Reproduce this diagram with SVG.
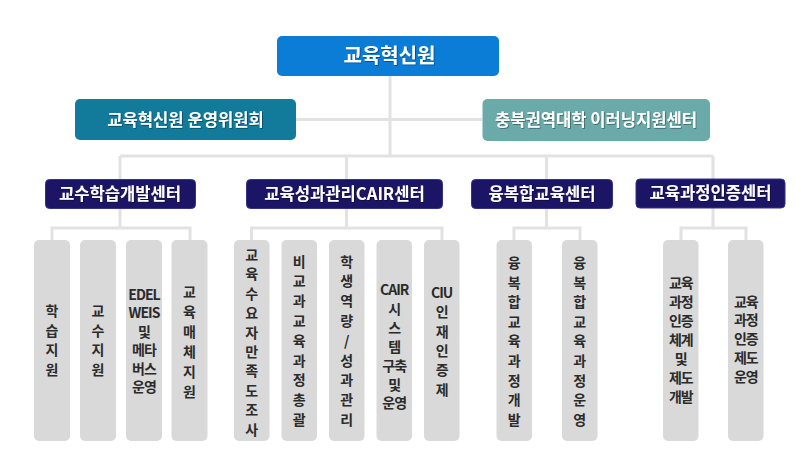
<svg xmlns="http://www.w3.org/2000/svg" width="801" height="458" viewBox="0 0 801 458">
<defs>
<filter id="ts" x="-10%" y="-30%" width="120%" height="160%">
<feDropShadow dx="0.8" dy="0.8" stdDeviation="0.6" flood-color="#000" flood-opacity="0.45"/>
</filter>
<style>
.conn{stroke:#e2e2e2;stroke-width:3;fill:none}
.hd{font-family:"Noto Sans CJK KR","Noto Sans",sans-serif;font-weight:bold;fill:#fff;text-anchor:middle;filter:url(#ts)}
.ctr{fill:#1c1566;stroke:#34338a;stroke-width:1}
.leaf{fill:#d9d9d9}
.vt{font-family:"Noto Sans CJK KR","Noto Sans",sans-serif;font-size:14px;fill:#2b2b2b;text-anchor:middle;font-weight:bold}
.m{letter-spacing:-1px}
</style>
</defs>
<rect width="801" height="458" fill="#fff"/>
<g id="connectors">
<path class="conn" d="M390 76V156M296 119.5H482M120 156H713M120 156V179M346.5 156V179M546.5 156V179M713 156V179"/>
<path class="conn" d="M120 208V228M346.5 208V228M546.5 208V228M713 208V228"/>
<path class="conn" d="M52 240V228H190V240M251.5 240V228H442V240M514 240V228H580V240M681 240V228H746V240"/>
</g>
<g id="n-root">
<rect x="277" y="36" width="222" height="40" rx="5" fill="#0b7dd6"/>
<text class="hd" x="389.5" y="63" font-size="20">교육혁신원</text>
</g>
<g id="n-committee">
<rect x="75" y="99" width="221" height="41" rx="5" fill="#127b9c"/>
<text class="hd" x="185.5" y="125.5" font-size="16.6">교육혁신원 운영위원회</text>
</g>
<g id="n-elearning">
<rect x="482.5" y="99" width="227.5" height="42" rx="5" fill="#6aabaa"/>
<text class="hd" x="596" y="126" font-size="16.6">충북권역대학 이러닝지원센터</text>
</g>
<g id="n-c1">
<rect class="ctr" x="45.5" y="179.5" width="150" height="29" rx="4"/>
<text class="hd" x="120" y="199.5" font-size="16.6">교수학습개발센터</text>
</g>
<g id="n-c2">
<rect class="ctr" x="246.5" y="179.5" width="196" height="29" rx="4"/>
<text class="hd" x="344.5" y="199.5" font-size="16.6">교육성과관리CAIR센터</text>
</g>
<g id="n-c3">
<rect class="ctr" x="471.5" y="179.5" width="141" height="29" rx="4"/>
<text class="hd" x="542" y="199.5" font-size="16.6">융복합교육센터</text>
</g>
<g id="n-c4">
<rect class="ctr" x="636" y="179" width="149" height="29" rx="4"/>
<text class="hd" x="710.5" y="199" font-size="16.6">교육과정인증센터</text>
</g>
<!-- group 1 leaves -->
<g id="l1">
<rect class="leaf" x="34" y="240" width="36" height="201" rx="5"/>
<text class="vt"><tspan x="52" y="316">학</tspan><tspan x="52" dy="19.5">습</tspan><tspan x="52" dy="19.5">지</tspan><tspan x="52" dy="19.5">원</tspan></text>
</g>
<g id="l2">
<rect class="leaf" x="80" y="240" width="36" height="201" rx="5"/>
<text class="vt"><tspan x="98" y="316">교</tspan><tspan x="98" dy="19.5">수</tspan><tspan x="98" dy="19.5">지</tspan><tspan x="98" dy="19.5">원</tspan></text>
</g>
<g id="l3">
<rect class="leaf" x="126" y="240" width="36" height="201" rx="5"/>
<text class="vt m"><tspan x="144" y="300">EDEL</tspan><tspan x="144" dy="18.4">WEIS</tspan><tspan x="144" dy="18.4">및</tspan><tspan x="144" dy="18.4">메타</tspan><tspan x="144" dy="18.4">버스</tspan><tspan x="144" dy="18.4">운영</tspan></text>
</g>
<g id="l4">
<rect class="leaf" x="171.5" y="240" width="36" height="201" rx="5"/>
<text class="vt"><tspan x="189.5" y="296.5">교</tspan><tspan x="189.5" dy="20">육</tspan><tspan x="189.5" dy="20">매</tspan><tspan x="189.5" dy="20">체</tspan><tspan x="189.5" dy="20">지</tspan><tspan x="189.5" dy="20">원</tspan></text>
</g>
<!-- group 2 leaves -->
<g id="l5">
<rect class="leaf" x="234" y="240" width="35.5" height="201" rx="5"/>
<text class="vt"><tspan x="251.8" y="260">교</tspan><tspan x="251.8" dy="19.4">육</tspan><tspan x="251.8" dy="19.4">수</tspan><tspan x="251.8" dy="19.4">요</tspan><tspan x="251.8" dy="19.4">자</tspan><tspan x="251.8" dy="19.4">만</tspan><tspan x="251.8" dy="19.4">족</tspan><tspan x="251.8" dy="19.4">도</tspan><tspan x="251.8" dy="19.4">조</tspan><tspan x="251.8" dy="19.4">사</tspan></text>
</g>
<g id="l6">
<rect class="leaf" x="281.5" y="240" width="35.5" height="201" rx="5"/>
<text class="vt"><tspan x="299.2" y="266.5">비</tspan><tspan x="299.2" dy="19.8">교</tspan><tspan x="299.2" dy="19.8">과</tspan><tspan x="299.2" dy="19.8">교</tspan><tspan x="299.2" dy="19.8">육</tspan><tspan x="299.2" dy="19.8">과</tspan><tspan x="299.2" dy="19.8">정</tspan><tspan x="299.2" dy="19.8">총</tspan><tspan x="299.2" dy="19.8">괄</tspan></text>
</g>
<g id="l7">
<rect class="leaf" x="329" y="240" width="35.5" height="201" rx="5"/>
<text class="vt"><tspan x="346.8" y="266.5">학</tspan><tspan x="346.8" dy="19.8">생</tspan><tspan x="346.8" dy="19.8">역</tspan><tspan x="346.8" dy="19.8">량</tspan><tspan x="346.8" dy="19.8">/</tspan><tspan x="346.8" dy="19.8">성</tspan><tspan x="346.8" dy="19.8">과</tspan><tspan x="346.8" dy="19.8">관</tspan><tspan x="346.8" dy="19.8">리</tspan></text>
</g>
<g id="l8">
<rect class="leaf" x="376.5" y="240" width="35.5" height="201" rx="5"/>
<text class="vt m"><tspan x="394.2" y="295">CAIR</tspan><tspan x="394.2" dy="18.9">시</tspan><tspan x="394.2" dy="18.9">스</tspan><tspan x="394.2" dy="18.9">템</tspan><tspan x="394.2" dy="18.9">구축</tspan><tspan x="394.2" dy="18.9">및</tspan><tspan x="394.2" dy="18.9">운영</tspan></text>
</g>
<g id="l9">
<rect class="leaf" x="424" y="240" width="35.5" height="201" rx="5"/>
<text class="vt m"><tspan x="441.7" y="298">CIU</tspan><tspan x="441.7" dy="19.3">인</tspan><tspan x="441.7" dy="19.3">재</tspan><tspan x="441.7" dy="19.3">인</tspan><tspan x="441.7" dy="19.3">증</tspan><tspan x="441.7" dy="19.3">제</tspan></text>
</g>
<!-- group 3 leaves -->
<g id="l10">
<rect class="leaf" x="496.5" y="240" width="35.5" height="201" rx="5"/>
<text class="vt"><tspan x="514.3" y="268">융</tspan><tspan x="514.3" dy="19.6">복</tspan><tspan x="514.3" dy="19.6">합</tspan><tspan x="514.3" dy="19.6">교</tspan><tspan x="514.3" dy="19.6">육</tspan><tspan x="514.3" dy="19.6">과</tspan><tspan x="514.3" dy="19.6">정</tspan><tspan x="514.3" dy="19.6">개</tspan><tspan x="514.3" dy="19.6">발</tspan></text>
</g>
<g id="l11">
<rect class="leaf" x="562" y="240" width="35.5" height="201" rx="5"/>
<text class="vt"><tspan x="579.8" y="268">융</tspan><tspan x="579.8" dy="19.6">복</tspan><tspan x="579.8" dy="19.6">합</tspan><tspan x="579.8" dy="19.6">교</tspan><tspan x="579.8" dy="19.6">육</tspan><tspan x="579.8" dy="19.6">과</tspan><tspan x="579.8" dy="19.6">정</tspan><tspan x="579.8" dy="19.6">운</tspan><tspan x="579.8" dy="19.6">영</tspan></text>
</g>
<!-- group 4 leaves -->
<g id="l12">
<rect class="leaf" x="663" y="240" width="35.5" height="201" rx="5"/>
<text class="vt m"><tspan x="680.8" y="288">교육</tspan><tspan x="680.8" dy="19">과정</tspan><tspan x="680.8" dy="19">인증</tspan><tspan x="680.8" dy="19">체계</tspan><tspan x="680.8" dy="19">및</tspan><tspan x="680.8" dy="19">제도</tspan><tspan x="680.8" dy="19">개발</tspan></text>
</g>
<g id="l13">
<rect class="leaf" x="728" y="240" width="35.5" height="201" rx="5"/>
<text class="vt m"><tspan x="745.8" y="306.5">교육</tspan><tspan x="745.8" dy="18.75">과정</tspan><tspan x="745.8" dy="18.75">인증</tspan><tspan x="745.8" dy="18.75">제도</tspan><tspan x="745.8" dy="18.75">운영</tspan></text>
</g>
</svg>
